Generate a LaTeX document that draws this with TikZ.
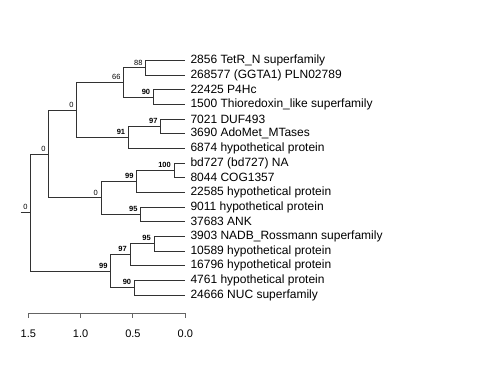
\documentclass[tikz,border=0pt]{standalone}
\usepackage{fontspec}
\setmainfont{Liberation Sans}
\usetikzlibrary{positioning}
\definecolor{edgecol}{RGB}{50,50,50}
\definecolor{axiscol}{RGB}{100,100,100}

\begin{document}
\begin{tikzpicture}[x=1pt, y=-1pt,
    branch/.style={draw=edgecol, line width=0.8pt},
    axisline/.style={draw=axiscol, line width=0.9pt},
    leaflab/.style={inner sep=0pt, font=\fontsize{12}{14}\selectfont},
    bs/.style={inner sep=0.5pt, font=\fontsize{7.5}{9}\selectfont},
    bsbold/.style={bs, font=\fontsize{7.5}{9}\selectfont\bfseries},
    ticklab/.style={inner sep=0pt, font=\fontsize{11}{13}\selectfont}]
  \useasboundingbox (0,0) rectangle (480,384);

  % tips and their labels
  \foreach \i/\lab in {1/{2856 TetR\_N superfamily}, 2/{268577 (GGTA1) PLN02789},
      3/{22425 P4Hc}, 4/{1500 Thioredoxin\_like superfamily}, 5/{7021 DUF493},
      6/{3690 AdoMet\_MTases}, 7/{6874 hypothetical protein}, 8/{bd727 (bd727) NA},
      9/{8044 COG1357}, 10/{22585 hypothetical protein}, 11/{9011 hypothetical protein},
      12/{37683 ANK}, 13/{3903 NADB\_Rossmann superfamily}, 14/{10589 hypothetical protein},
      15/{16796 hypothetical protein}, 16/{4761 hypothetical protein}, 17/{24666 NUC superfamily}} {
    \coordinate (t\i) at (185.3, {60.5+(\i-1)*14.65});
    \node[leaflab, right=5pt of t\i] (lab\i) {\lab};
  }

  % internal nodes
  \coordinate (root) at (30.7,212.5);
  \coordinate (rootbase) at (20.5,212.5);
  \coordinate (na) at (48.7,153.9);
  \coordinate (nc) at (76.7,109.95);
  \coordinate (ne) at (123.7,82.48);
  \coordinate (ng) at (145.7,67.83);
  \coordinate (nh) at (153.3,97.13);
  \coordinate (nf) at (128.3,137.41);
  \coordinate (ni) at (160.7,126.43);
  \coordinate (nd) at (101,197.84);
  \coordinate (nj) at (136.7,181.36);
  \coordinate (nl) at (174,170.38);
  \coordinate (nk) at (140.7,214.33);
  \coordinate (nb) at (110.7,271.1);
  \coordinate (nm) at (130,254.61);
  \coordinate (no) at (154,243.63);
  \coordinate (nn) at (134.3,287.58);

  % branches
  \draw[branch] (rootbase) -- (root);
  \draw[branch] (root) |- (na);
  \draw[branch] (root) |- (nb);
  \draw[branch] (na) |- (nc);
  \draw[branch] (na) |- (nd);
  \draw[branch] (nc) |- (ne);
  \draw[branch] (nc) |- (nf);
  \draw[branch] (ne) |- (ng);
  \draw[branch] (ne) |- (nh);
  \draw[branch] (ng) |- (t1);
  \draw[branch] (ng) |- (t2);
  \draw[branch] (nh) |- (t3);
  \draw[branch] (nh) |- (t4);
  \draw[branch] (nf) |- (ni);
  \draw[branch] (nf) |- (t7);
  \draw[branch] (ni) |- (t5);
  \draw[branch] (ni) |- (t6);
  \draw[branch] (nd) |- (nj);
  \draw[branch] (nd) |- (nk);
  \draw[branch] (nj) |- (nl);
  \draw[branch] (nj) |- (t10);
  \draw[branch] (nl) |- (t8);
  \draw[branch] (nl) |- (t9);
  \draw[branch] (nk) |- (t11);
  \draw[branch] (nk) |- (t12);
  \draw[branch] (nb) |- (nm);
  \draw[branch] (nb) |- (nn);
  \draw[branch] (nm) |- (no);
  \draw[branch] (nm) |- (t15);
  \draw[branch] (no) |- (t13);
  \draw[branch] (no) |- (t14);
  \draw[branch] (nn) |- (t16);
  \draw[branch] (nn) |- (t17);

  % support values
  \node[bs, above left=2pt and 2.5pt of root] (bsroot) {0};
  \node[bs, above left=2pt and 2.5pt of na] (bsa) {0};
  \node[bs, above left=2pt and 2.5pt of nc] (bsc) {0};
  \node[bs, above left=2pt and 2.5pt of ne] (bse) {66};
  \node[bs, above left=2pt and 2.5pt of ng] (bsg) {88};
  \node[bsbold, above left=2pt and 2.5pt of nh] (bsh) {90};
  \node[bsbold, above left=2pt and 2.5pt of nf] (bsf) {91};
  \node[bsbold, above left=2pt and 2.5pt of ni] (bsi) {97};
  \node[bs, above left=2pt and 2.5pt of nd] (bsd) {0};
  \node[bsbold, above left=2pt and 2.5pt of nj] (bsj) {99};
  \node[bsbold, above left=2pt and 2.5pt of nl] (bsl) {100};
  \node[bsbold, above left=2pt and 2.5pt of nk] (bsk) {95};
  \node[bsbold, above left=2pt and 2.5pt of nb] (bsb) {99};
  \node[bsbold, above left=2pt and 2.5pt of nm] (bsm) {97};
  \node[bsbold, above left=2pt and 2.5pt of no] (bso) {95};
  \node[bsbold, above left=2pt and 2.5pt of nn] (bsn) {90};

  % scale
  \coordinate (ax15) at (28.3,313.3);
  \coordinate (ax10) at (80.6,313.3);
  \coordinate (ax05) at (132.9,313.3);
  \coordinate (ax00) at (185.3,313.3);
  \draw[axisline] (ax15) -- (ax00);
  \foreach \t/\v in {15/1.5, 10/1.0, 05/0.5, 00/0.0} {
    \coordinate (tk\t) at ([yshift=-5pt]ax\t);
    \draw[axisline] (ax\t) -- (tk\t);
    \node[ticklab, below=11.5pt of tk\t] (tl\t) {\v};
  }
\end{tikzpicture}
\end{document}
